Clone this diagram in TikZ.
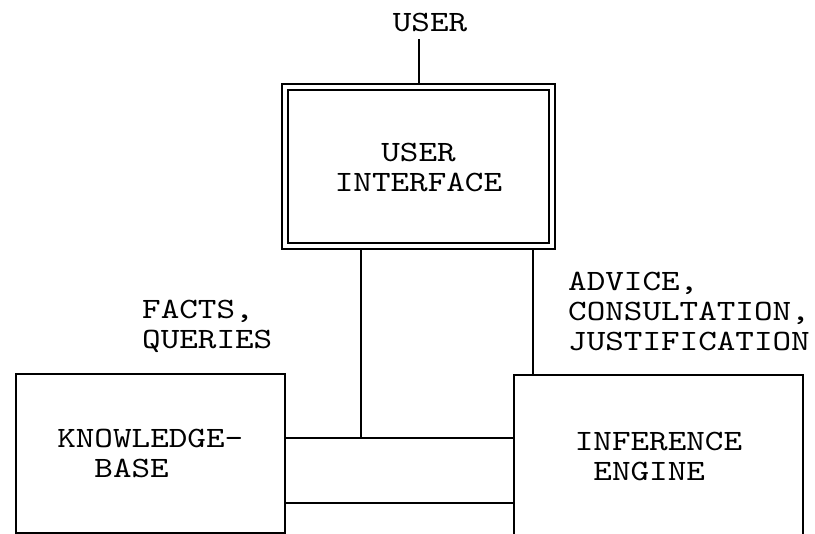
\documentclass[tikz,border=0pt]{standalone}
\usepackage{fontspec}
\setmonofont{lmmono10-regular.otf}[FakeStretch=1.2]
\usepackage{tikz}

\tikzset{
  lbl/.style={font=\ttfamily\fontsize{29.5}{30}\selectfont, inner sep=0pt},
  blk/.style={draw, line width=2pt, inner sep=0pt, lbl},
  uibox/.style={blk, double, double distance=4pt, outer sep=4pt},
  wire/.style={line width=2pt},
}

\begin{document}
\begin{tikzpicture}[x=1pt,y=1pt]
\useasboundingbox (0,0) rectangle (815,534);
\clip (0,0) rectangle (815,534);
% top: user and its interface
\node[lbl] (user) at (430,512) {USER};
\node[uibox, minimum width=267pt, minimum height=159pt, align=center] (ui) at (418.5,367) {USER\\INTERFACE};
\coordinate (usr) at (0,495);
\draw[wire] (ui.north) -- (ui.north |- usr);
% the two lower blocks
\node[blk, minimum width=269.5pt, minimum height=158.5pt, align=left] (kb) at (150.25,80.25) {KNOWLEDGE-\\\phantom{KN}BASE};
\node[blk, minimum width=289pt, minimum height=163pt, align=left] (ie) at (658.5,77.5) {INFERENCE\\\phantom{I}ENGINE};
% flow labels
\node[lbl, anchor=west, align=left] (facts) at (142,208) {FACTS,\\QUERIES};
\node[lbl, anchor=west, align=left] (advice) at (568,223) {ADVICE,\\CONSULTATION,\\JUSTIFICATION};
% connectors
\coordinate (tee) at (361,96);
\coordinate (low) at (361,31);
\coordinate (advx) at (533,0);
\draw[wire] (ui.south -| tee) -- (tee);
\draw[wire] (kb.east |- tee) -- (ie.west |- tee);
\draw[wire] (kb.east |- low) -- (ie.west |- low);
\draw[wire] (ui.south -| advx) -- (ie.north -| advx);
\end{tikzpicture}
\end{document}
